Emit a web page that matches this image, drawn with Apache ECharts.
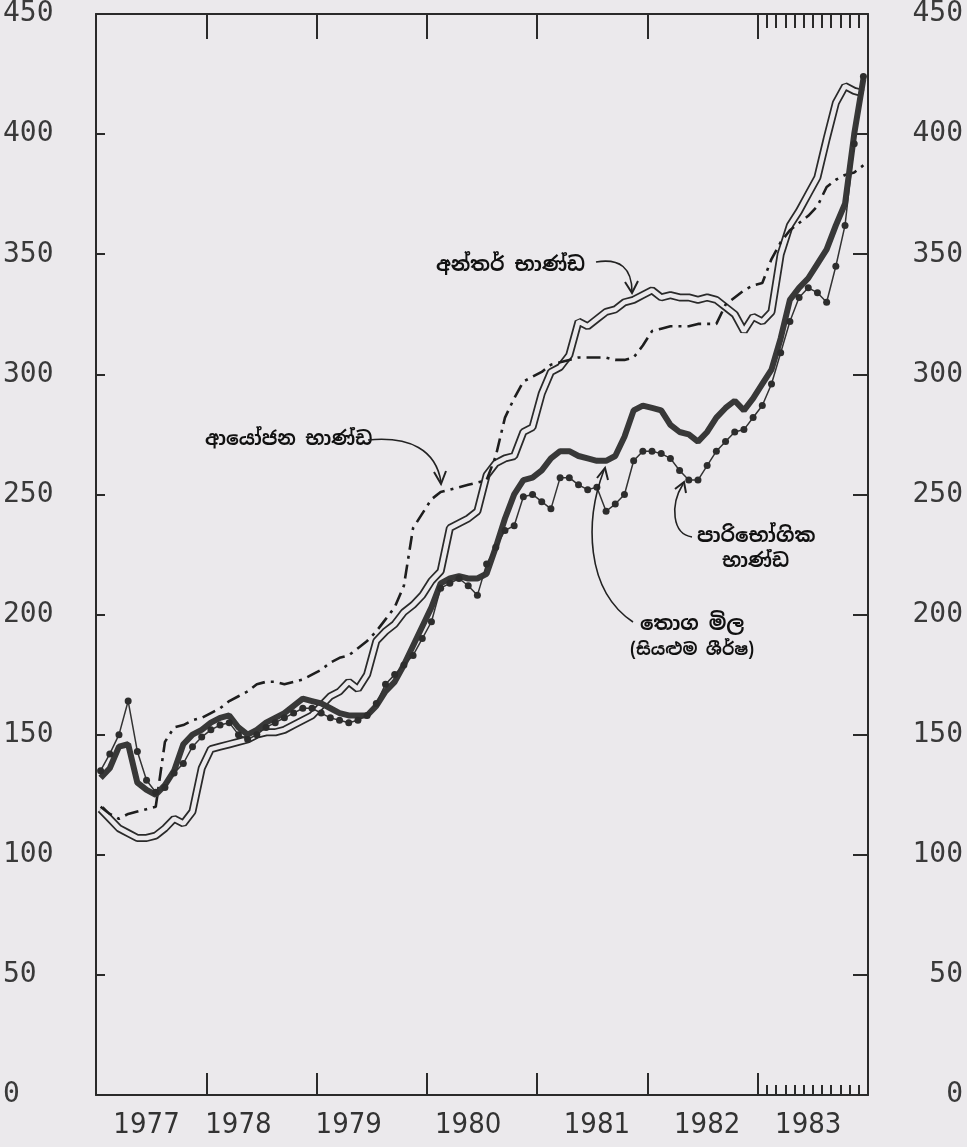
<!DOCTYPE html>
<html>
<head>
<meta charset="utf-8">
<script src="https://cdn.jsdelivr.net/npm/echarts@6/dist/echarts.min.js"></script>
<style>
  html, body { margin: 0; padding: 0; background: #ebe9ec; }
  #main { width: 967px; height: 1147px; }
</style>
</head>
<body>
<div id="main"></div>
<script>
// monthly index values, 1977-01 .. 1983-12
var years = ['1977', '1978', '1979', '1980', '1981', '1982', '1983'];
var yTicks = [0, 50, 100, 150, 200, 250, 300, 350, 400, 450];

// අන්තර් භාණ්ඩ (double line)
var intermediate = [
  119, 115, 111, 109, 107, 107, 108, 111, 115, 113, 118, 136,
  144, 145, 146, 147, 148, 150, 151, 151, 152, 154, 156, 158,
  162, 166, 168, 172, 169, 175, 189, 193, 196, 201, 204, 208,
  214, 218, 236, 238, 240, 243, 258, 263, 265, 266, 276, 278,
  292, 301, 303, 308, 322, 320, 323, 326, 327, 330, 331, 333,
  335, 332, 333, 332, 332, 331, 332, 331, 328, 325, 318, 324,
  322, 326, 350, 362, 368, 375, 382, 398, 413, 420, 418, 417
];
// ආයෝජන භාණ්ඩ (dash-dot)
var investment = [
  120, 117, 115, 117, 118, 119, 120, 147, 153, 154, 156, 157,
  159, 161, 164, 166, 168, 171, 172, 172, 171, 172, 173, 175,
  177, 180, 182, 183, 186, 189, 193, 198, 203, 212, 236, 242,
  248, 251, 252, 253, 254, 255, 256, 266, 282, 290, 297, 299,
  301, 304, 305, 306, 307, 307, 307, 307, 306, 306, 307, 312,
  318, 319, 320, 320, 320, 321, 321, 321, 329, 332, 335, 337,
  338, 348, 355, 360, 363, 366, 370, 378, 381, 383, 384, 387
];
// තොග මිල (සියළුම ශීර්ෂ) (thick line)
var wholesale = [
  132, 136, 145, 146, 130, 127, 125, 129, 135, 146, 150, 152,
  155, 157, 158, 153, 150, 152, 155, 157, 159, 162, 165, 164,
  163, 161, 159, 158, 158, 158, 162, 168, 172, 179, 187, 195,
  203, 213, 215, 216, 215, 215, 217, 228, 240, 250, 256, 257,
  260, 265, 268, 268, 266, 265, 264, 264, 266, 274, 285, 287,
  286, 285, 279, 276, 275, 272, 276, 282, 286, 289, 285, 290,
  296, 302, 315, 331, 336, 340, 346, 352, 362, 371, 400, 423
];
// පාරිභෝගික භාණ්ඩ (thin line with dots)
var consumer = [
  135, 142, 150, 164, 143, 131, 126, 128, 134, 138, 145, 149,
  152, 154, 155, 150, 148, 150, 153, 155, 157, 159, 161, 161,
  159, 157, 156, 155, 156, 158, 163, 171, 175, 179, 183, 190,
  197, 211, 213, 215, 212, 208, 221, 228, 235, 237, 249, 250,
  247, 244, 257, 257, 254, 252, 253, 243, 246, 250, 264, 268,
  268, 267, 265, 260, 256, 256, 262, 268, 272, 276, 277, 282,
  287, 296, 309, 322, 332, 336, 334, 330, 345, 362, 396, 424
];

var months = [];
years.forEach(function (y) {
  for (var m = 1; m <= 12; m++) months.push(y + '-' + (m < 10 ? '0' + m : m));
});

var ink = '#2a2a2a';
var paper = '#ebe9ec';
var sinhala = '"Noto Sans Sinhala", "Noto Sans", "DejaVu Sans", sans-serif';
var numFont = '"DejaVu Sans Mono", monospace';
// month index under each year label (labels sit a little left of mid-year)
var labelAt = [5, 15, 27, 40, 54, 66, 77];

function xAx(pos, tickLen, tickFn, withLabels, showLine) {
  return {
    type: 'category', data: months, position: pos, boundaryGap: true,
    axisLine: { show: showLine, lineStyle: { color: ink, width: 2 } },
    axisTick: { show: true, inside: true, length: tickLen, interval: tickFn,
      lineStyle: { color: ink, width: 2 } },
    axisLabel: withLabels ? {
      show: true, margin: 16, interval: function (i) { return labelAt.indexOf(i) >= 0; },
      formatter: function (v) { return v.slice(0, 4); },
      color: '#333', fontSize: 29,
      fontFamily: '"Liberation Sans Narrow", "DejaVu Sans Condensed", sans-serif'
    } : { show: false },
    splitLine: { show: false }
  };
}
function yearTick(i) { return i % 12 === 0 && i > 0; }
function monthTick(i) { return i > 72; }

function yAx(pos, tickLen, align, margin) {
  return {
    type: 'value', min: yTicks[0], max: yTicks[yTicks.length - 1], interval: 50,
    position: pos,
    axisLine: { show: true, lineStyle: { color: ink, width: 2 } },
    axisTick: { show: true, inside: true, length: tickLen, lineStyle: { color: ink, width: 2 } },
    axisLabel: { show: true, align: align, margin: margin, color: '#3a3a3a',
      fontSize: 28, fontFamily: numFont },
    splitLine: { show: false }
  };
}

var chart = echarts.init(document.getElementById('main'));

// annotation texts and arrows
function label(text, x, y, size) {
  return { type: 'text', x: x, y: y, z: 50,
    style: { text: text, fill: '#111', font: 'bold ' + (size || 19) + 'px ' + sinhala } };
}
function curve(x1, y1, c1x, c1y, c2x, c2y, x2, y2) {
  return { type: 'bezierCurve', z: 50,
    shape: { x1: x1, y1: y1, cpx1: c1x, cpy1: c1y, cpx2: c2x, cpy2: c2y, x2: x2, y2: y2 },
    style: { stroke: '#222', lineWidth: 1.6, fill: null } };
}
function head(points) {
  return { type: 'polyline', z: 50, shape: { points: points },
    style: { stroke: '#222', lineWidth: 2, fill: null } };
}

chart.setOption({
  backgroundColor: paper,
  animation: false,
  grid: { left: 96, right: 99, top: 14, bottom: 52 },
  xAxis: [
    xAx('bottom', 22, yearTick, true, true),
    xAx('bottom', 10, monthTick, false, false),
    xAx('top', 25, yearTick, false, true),
    xAx('top', 14, monthTick, false, false)
  ],
  yAxis: [
    yAx('left', 9, 'left', 93),
    yAx('right', 15, 'right', 95)
  ],
  graphic: [
    label('අන්තර් භාණ්ඩ', 436, 255, 20),
    curve(596, 262, 620, 258, 632, 268, 632, 292),
    head([[625, 282], [632, 293], [638, 281]]),

    label('ආයෝජන භාණ්ඩ', 205, 430, 19),
    curve(368, 440, 410, 436, 436, 450, 441, 482),
    head([[434, 472], [441, 484], [446, 471]]),

    label('පාරිභෝගික', 697, 526, 20),
    label('භාණ්ඩ', 722, 552, 19),
    curve(692, 537, 672, 534, 670, 505, 683, 484),
    head([[675, 489], [684, 482], [686, 493]]),

    label('තොග මිල', 640, 614, 20),
    label('(සියළුම ශීර්ෂ)', 630, 642, 17),
    curve(633, 622, 585, 590, 585, 520, 604, 470),
    head([[597, 478], [605, 468], [608, 480]])
  ],
  series: [
    { name: 'අන්තර් භාණ්ඩ', type: 'line', data: intermediate, showSymbol: false, z: 2,
      lineStyle: { color: ink, width: 8 } },
    { name: 'අන්තර් භාණ්ඩ ', type: 'line', data: intermediate, showSymbol: false, z: 3,
      lineStyle: { color: paper, width: 4.5 } },
    { name: 'ආයෝජන භාණ්ඩ', type: 'line', data: investment, showSymbol: false, z: 4,
      lineStyle: { color: '#1e1e1e', width: 2.6, type: [14, 6, 3, 6] } },
    { name: 'තොග මිල', type: 'line', data: wholesale, showSymbol: false, z: 5,
      lineStyle: { color: '#383838', width: 6 } },
    { name: 'පාරිභෝගික භාණ්ඩ', type: 'line', data: consumer, z: 6,
      symbol: 'circle', symbolSize: 7, showAllSymbol: true,
      itemStyle: { color: '#2d2d2d' },
      lineStyle: { color: '#333', width: 1.5 } }
  ]
});
</script>
</body>
</html>
